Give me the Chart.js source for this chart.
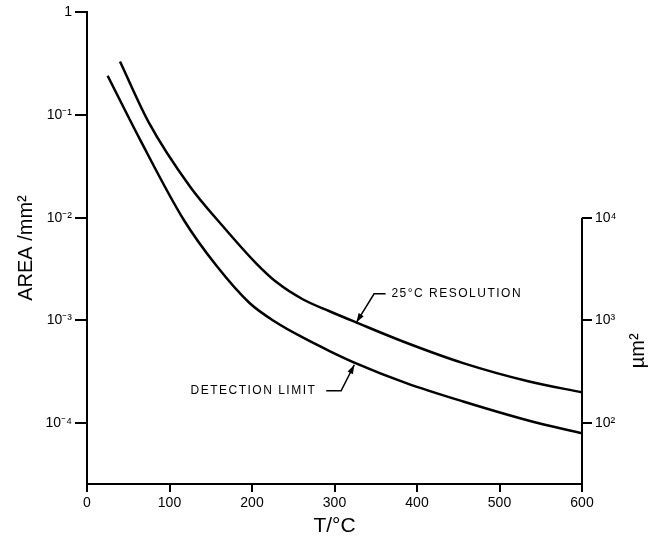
<!DOCTYPE html>
<html>
<head>
<meta charset="utf-8">
<script src="https://cdn.jsdelivr.net/npm/chart.js@4"></script>
<style>
  html, body { margin: 0; padding: 0; background: #fff; }
  #wrap { width: 656px; height: 542px; }
</style>
</head>
<body>
<div id="wrap"><canvas id="myChart" width="656" height="542"></canvas></div>
<script>
// values (T in °C, area in mm²)
const resolutionT = [40, 75, 125, 165, 205, 230, 262, 294, 326, 383, 456, 536, 600];
const resolutionArea = [0.33, 0.084, 0.020, 0.0082, 0.0036, 0.00235, 0.0016, 0.00123, 0.00096, 0.000625, 0.000385, 0.000255, 0.0002];
const detectionT = [25, 64, 117, 157, 197, 230, 262, 294, 324, 387, 456, 536, 600];
const detectionArea = [0.24, 0.058, 0.0096, 0.0034, 0.00148, 0.00095, 0.00068, 0.000505, 0.00039, 0.000246, 0.000163, 0.000106, 0.00008];

const xTicks = [0, 100, 200, 300, 400, 500, 600];
const leftTicks = [1, 1e-1, 1e-2, 1e-3, 1e-4];
const leftTickLabels = ["1", "10⁻¹", "10⁻²", "10⁻³", "10⁻⁴"];
const rightTicks = [1e2, 1e3, 1e4];
const rightTickLabels = ["10²", "10³", "10⁴"];

const areaMin = 2.57e-5;
const areaMax = 1;
const UM2_PER_MM2 = 1e6;

// callouts, in data units
const notes = [
  { text: "25°C RESOLUTION", align: "left", textT: 369, textArea: 0.00182,
    path: [[362, 0.00182], [348, 0.00182], [326.6, 0.00096]] },
  { text: "DETECTION LIMIT", align: "right", textT: 278, textArea: 0.000207,
    path: [[290, 0.000207], [308, 0.000207], [324, 0.00037]] }
];

const font = "'Liberation Sans', Arial, sans-serif";

function toPoints(xs, ys) {
  return xs.map((x, i) => ({ x: x, y: ys[i] }));
}

const extras = {
  id: "extras",
  afterDraw(chart) {
    const ctx = chart.ctx;
    const x = chart.scales.x, y = chart.scales.y, y2 = chart.scales.y2;
    ctx.save();
    ctx.strokeStyle = "#000";
    ctx.fillStyle = "#000";

    // right axis line only runs from 10^4 down
    ctx.lineWidth = 2;
    ctx.beginPath();
    ctx.moveTo(y2.left, y2.getPixelForValue(rightTicks[rightTicks.length - 1]));
    ctx.lineTo(y2.left, y2.bottom + 1);
    ctx.stroke();

    // right axis title
    ctx.save();
    ctx.font = "20px " + font;
    ctx.textAlign = "center";
    ctx.textBaseline = "middle";
    const midY = (y2.getPixelForValue(rightTicks[rightTicks.length - 1]) + y2.bottom) / 2;
    ctx.translate(638, midY);
    ctx.rotate(-Math.PI / 2);
    ctx.fillText("µm²", 0, 0);
    ctx.restore();

    // callouts
    ctx.font = "12px " + font;
    ctx.letterSpacing = "1.5px";
    ctx.textBaseline = "middle";
    notes.forEach(n => {
      ctx.textAlign = n.align;
      ctx.fillText(n.text, x.getPixelForValue(n.textT), y.getPixelForValue(n.textArea));
      const pts = n.path.map(p => [x.getPixelForValue(p[0]), y.getPixelForValue(p[1])]);
      ctx.lineWidth = 1.5;
      ctx.beginPath();
      ctx.moveTo(pts[0][0], pts[0][1]);
      for (let i = 1; i < pts.length; i++) ctx.lineTo(pts[i][0], pts[i][1]);
      ctx.stroke();
      // arrow head at the tip
      const a = pts[pts.length - 2], b = pts[pts.length - 1];
      const ang = Math.atan2(b[1] - a[1], b[0] - a[0]);
      ctx.beginPath();
      ctx.moveTo(b[0], b[1]);
      ctx.lineTo(b[0] - 9 * Math.cos(ang) + 3 * Math.sin(ang), b[1] - 9 * Math.sin(ang) - 3 * Math.cos(ang));
      ctx.lineTo(b[0] - 9 * Math.cos(ang) - 3 * Math.sin(ang), b[1] - 9 * Math.sin(ang) + 3 * Math.cos(ang));
      ctx.closePath();
      ctx.fill();
    });
    ctx.restore();
  }
};

const ctx = document.getElementById("myChart").getContext("2d");

new Chart(ctx, {
  type: "line",
  data: {
    datasets: [
      {
        label: "25°C resolution",
        data: toPoints(resolutionT, resolutionArea),
        borderColor: "#000",
        borderWidth: 2.5,
        pointRadius: 0,
        cubicInterpolationMode: "monotone",
        fill: false
      },
      {
        label: "Detection limit",
        data: toPoints(detectionT, detectionArea),
        borderColor: "#000",
        borderWidth: 2.5,
        pointRadius: 0,
        cubicInterpolationMode: "monotone",
        fill: false
      }
    ]
  },
  options: {
    responsive: false,
    animation: false,
    layout: { padding: { top: 12, left: 0, right: 0, bottom: 0 } },
    plugins: {
      legend: { display: false },
      tooltip: { enabled: false }
    },
    scales: {
      x: {
        type: "linear",
        min: 0,
        max: 600,
        afterBuildTicks: s => { s.ticks = xTicks.map(v => ({ value: v })); },
        afterFit: s => { s.height = 58; },
        grid: { drawOnChartArea: false, drawTicks: true, tickLength: 8, color: "#000", lineWidth: 2 },
        border: { display: true, color: "#000", width: 2 },
        ticks: { color: "#000", font: { family: font, size: 14 }, padding: 3, maxRotation: 0 },
        title: { display: true, text: "T/°C", color: "#000", font: { family: font, size: 21 }, padding: { top: 2, bottom: 3 } }
      },
      y: {
        type: "logarithmic",
        position: "left",
        min: areaMin,
        max: areaMax,
        afterBuildTicks: s => { s.ticks = leftTicks.map(v => ({ value: v })); },
        afterFit: s => { s.width = 87; },
        grid: { drawOnChartArea: false, drawTicks: true, tickLength: 12, color: "#000", lineWidth: 2 },
        border: { display: true, color: "#000", width: 2 },
        ticks: {
          color: "#000",
          font: { family: font, size: 14 },
          padding: 3,
          autoSkip: false,
          callback: (v, i) => leftTickLabels[i]
        },
        title: { display: true, text: "AREA /mm²", color: "#000", font: { family: font, size: 20 }, padding: { top: 14, bottom: 0 } }
      },
      y2: {
        type: "logarithmic",
        position: "right",
        min: areaMin * UM2_PER_MM2,
        max: areaMax * UM2_PER_MM2,
        afterBuildTicks: s => { s.ticks = rightTicks.map(v => ({ value: v })); },
        afterFit: s => { s.width = 74; },
        grid: { drawOnChartArea: false, drawTicks: true, tickLength: 10, color: "#000", lineWidth: 2 },
        border: { display: false },
        ticks: {
          color: "#000",
          font: { family: font, size: 14 },
          padding: 3,
          autoSkip: false,
          callback: (v, i) => rightTickLabels[i]
        }
      }
    }
  },
  plugins: [extras]
});
</script>
</body>
</html>
